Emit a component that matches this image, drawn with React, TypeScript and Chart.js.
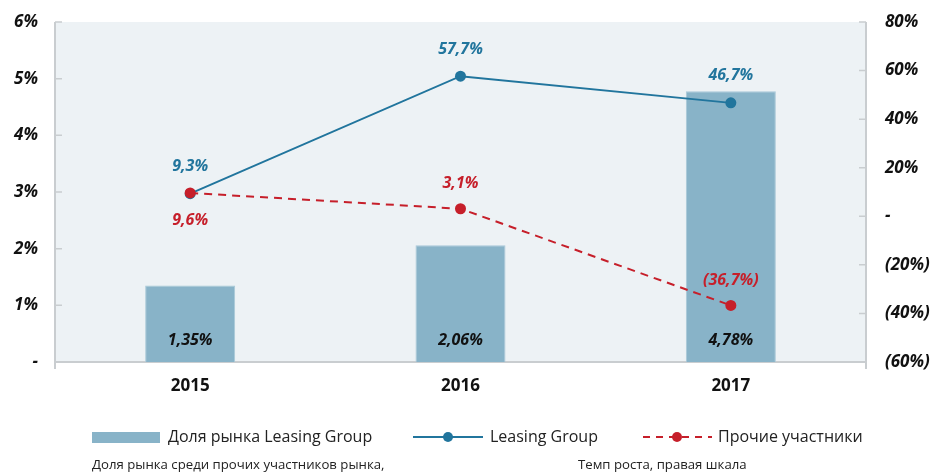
import React, { useEffect, useRef } from "react";
import { Chart, registerables } from "chart.js";

Chart.register(...registerables);

const categories = ["2015", "2016", "2017"];
const marketShare = [1.35, 2.06, 4.78];
const leasingGrowth = [9.3, 57.7, 46.7];
const othersGrowth = [9.6, 3.1, -36.7];
const othersLabelSide = ["below", "above", "above"];

const leftTicks = [0, 1, 2, 3, 4, 5, 6];
const rightTicks = [-60, -40, -20, 0, 20, 40, 60, 80];

const legendLabels = ["Доля рынка Leasing Group", "Leasing Group", "Прочие участники"];
const footnotes = ["Доля рынка среди прочих участников рынка,", "Темп роста, правая шкала"];

const BAR = "#88B3C8";
const BLUE = "#21759D";
const RED = "#C61F2A";
const BG = "#EDF2F5";
const AXIS = "#C9CDD0";
const FONT = "'Open Sans', 'Noto Sans', sans-serif";

const fmtPct = (v: number, d: number) => {
  const s = Math.abs(v).toFixed(d).replace(".", ",") + "%";
  return v < 0 ? "(" + s + ")" : s;
};
const fmtTick = (v: number) => {
  if (v === 0) return "-";
  return v < 0 ? "(" + Math.abs(v) + "%)" : v + "%";
};

const decorPlugin = {
  id: "decor",
  beforeDraw(chart: any) {
    const { ctx, chartArea: a } = chart;
    ctx.save();
    ctx.fillStyle = BG;
    ctx.fillRect(a.left, a.top, a.right - a.left, a.bottom - a.top);
    ctx.restore();
  },
  beforeDatasetsDraw(chart: any) {
    const { ctx, chartArea: a } = chart;
    const yL = chart.scales.y;
    const yR = chart.scales.y1;
    ctx.save();
    ctx.strokeStyle = AXIS;
    ctx.lineWidth = 2;
    ctx.beginPath();
    ctx.moveTo(a.left, a.top);
    ctx.lineTo(a.left, a.bottom + 7);
    ctx.moveTo(a.right, a.top);
    ctx.lineTo(a.right, a.bottom + 7);
    ctx.moveTo(a.left, a.bottom);
    ctx.lineTo(a.right, a.bottom);
    ctx.stroke();
    ctx.lineWidth = 1.5;
    ctx.beginPath();
    leftTicks.forEach((t) => {
      const y = yL.getPixelForValue(t);
      ctx.moveTo(a.left, y);
      ctx.lineTo(a.left + 7, y);
    });
    rightTicks.forEach((t) => {
      const y = yR.getPixelForValue(t);
      ctx.moveTo(a.right - 7, y);
      ctx.lineTo(a.right, y);
    });
    ctx.stroke();
    ctx.restore();
  },
  afterDraw(chart: any) {
    const { ctx } = chart;
    ctx.save();
    ctx.font = "bold italic 16px " + FONT;
    ctx.textAlign = "center";
    ctx.textBaseline = "middle";
    const barMeta = chart.getDatasetMeta(0);
    const base = chart.scales.y.getPixelForValue(0);
    barMeta.data.forEach((el: any, i: number) => {
      ctx.fillStyle = "#111";
      ctx.fillText(fmtPct(marketShare[i], 2), el.x, base - 22);
    });
    const blueMeta = chart.getDatasetMeta(1);
    blueMeta.data.forEach((el: any, i: number) => {
      ctx.fillStyle = BLUE;
      ctx.fillText(fmtPct(leasingGrowth[i], 1), el.x, el.y - 27);
    });
    const redMeta = chart.getDatasetMeta(2);
    redMeta.data.forEach((el: any, i: number) => {
      ctx.fillStyle = RED;
      const dy = othersLabelSide[i] === "below" ? 27 : -25;
      ctx.fillText(fmtPct(othersGrowth[i], 1), el.x, el.y + dy);
    });

    const ly = 437;
    ctx.textAlign = "left";
    ctx.font = "16px " + FONT;
    ctx.fillStyle = BAR;
    ctx.fillRect(92, ly - 5, 68, 11);
    ctx.fillStyle = "#222";
    ctx.fillText(legendLabels[0], 168, ly);

    ctx.strokeStyle = BLUE;
    ctx.lineWidth = 2;
    ctx.beginPath();
    ctx.moveTo(413, ly);
    ctx.lineTo(483, ly);
    ctx.stroke();
    ctx.fillStyle = BLUE;
    ctx.beginPath();
    ctx.arc(448, ly, 5, 0, Math.PI * 2);
    ctx.fill();
    ctx.fillStyle = "#222";
    ctx.fillText(legendLabels[1], 490, ly);

    ctx.strokeStyle = RED;
    ctx.setLineDash([7, 6]);
    ctx.beginPath();
    ctx.moveTo(643, ly);
    ctx.lineTo(712, ly);
    ctx.stroke();
    ctx.setLineDash([]);
    ctx.fillStyle = RED;
    ctx.beginPath();
    ctx.arc(677, ly, 5, 0, Math.PI * 2);
    ctx.fill();
    ctx.fillStyle = "#222";
    ctx.fillText(legendLabels[2], 718, ly);

    ctx.font = "13.2px " + FONT;
    ctx.fillText(footnotes[0], 92, 465);
    ctx.fillText(footnotes[1], 578, 465);
    ctx.restore();
  },
};

export default function App() {
  const ref = useRef<HTMLCanvasElement | null>(null);
  useEffect(() => {
    if (!ref.current) return;
    const chart = new Chart(ref.current, {
      type: "bar",
      data: {
        labels: categories,
        datasets: [
          {
            type: "bar",
            data: marketShare,
            backgroundColor: BAR,
            borderColor: "#A9C9D8",
            borderWidth: 1,
            yAxisID: "y",
            categoryPercentage: 1,
            barPercentage: 0.333,
            order: 3,
          },
          {
            type: "line",
            data: leasingGrowth,
            borderColor: BLUE,
            backgroundColor: BLUE,
            borderWidth: 2,
            pointRadius: 5.5,
            pointBorderWidth: 0,
            yAxisID: "y1",
            order: 2,
          },
          {
            type: "line",
            data: othersGrowth,
            borderColor: RED,
            backgroundColor: RED,
            borderWidth: 2,
            borderDash: [8, 6],
            pointRadius: 5.5,
            pointBorderWidth: 0,
            yAxisID: "y1",
            order: 1,
          },
        ] as any,
      },
      options: {
        responsive: false,
        animation: false,
        layout: { padding: { top: 22, left: 0, right: 0, bottom: 0 } },
        plugins: { legend: { display: false }, tooltip: { enabled: false } },
        scales: {
          x: {
            offset: true,
            grid: { display: false, drawTicks: false },
            border: { display: false },
            ticks: {
              padding: 14,
              color: "#111",
              font: { family: FONT, size: 17, weight: "bold" },
            },
            afterFit: (s: any) => {
              s.height = 113;
              s.paddingLeft = 0;
              s.paddingRight = 0;
            },
          },
          y: {
            position: "left",
            min: 0,
            max: 6,
            afterBuildTicks: (s: any) => {
              s.ticks = leftTicks.map((v) => ({ value: v }));
            },
            grid: { display: false, drawTicks: false },
            border: { display: false },
            ticks: {
              padding: 17,
              color: "#111",
              font: { family: FONT, size: 17, weight: "bold", style: "italic" },
              callback: (v: any) => fmtTick(Number(v)),
            },
            afterFit: (s: any) => {
              s.width = 55;
              s.paddingTop = 0;
              s.paddingBottom = 0;
            },
          },
          y1: {
            position: "right",
            min: -60,
            max: 80,
            afterBuildTicks: (s: any) => {
              s.ticks = rightTicks.map((v) => ({ value: v }));
            },
            grid: { display: false, drawTicks: false },
            border: { display: false },
            ticks: {
              padding: 19,
              color: "#111",
              font: { family: FONT, size: 17, weight: "bold", style: "italic" },
              callback: (v: any) => fmtTick(Number(v)),
            },
            afterFit: (s: any) => {
              s.width = 71;
              s.paddingTop = 0;
              s.paddingBottom = 0;
            },
          },
        },
      } as any,
      plugins: [decorPlugin],
    });
    return () => chart.destroy();
  }, []);
  return (
    <div style={{ position: "absolute", left: 0, top: 0, width: 937, height: 475, background: "#fff" }}>
      <canvas ref={ref} width={937} height={475} />
    </div>
  );
}
